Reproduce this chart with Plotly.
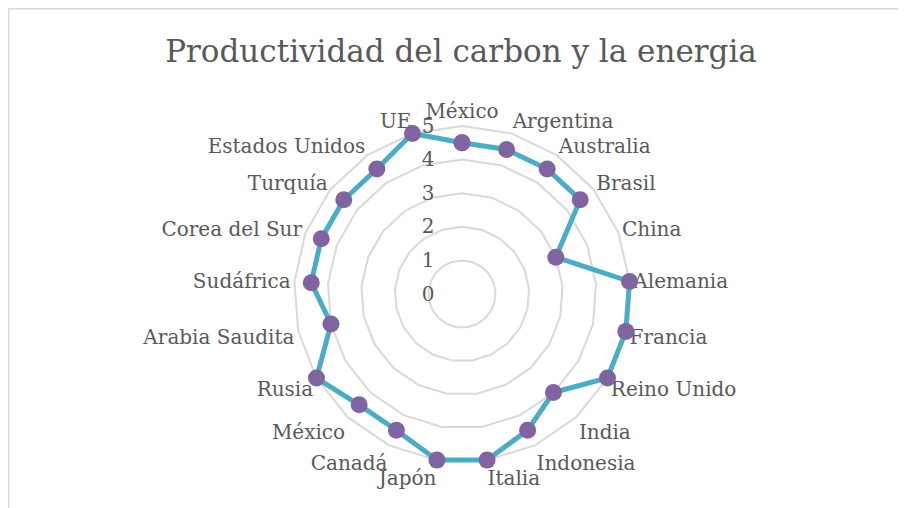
import plotly.graph_objects as go

# Data
categories = ["México", "Argentina", "Australia", "Brasil", "China", "Alemania",
              "Francia", "Reino Unido", "India", "Indonesia", "Italia", "Japón",
              "Canadá", "México", "Rusia", "Arabia Saudita", "Sudáfrica",
              "Corea del Sur", "Turquía", "Estados Unidos", "UE"]
values = [4.5, 4.5, 4.5, 4.5, 3, 5, 5, 5, 4, 4.5, 5, 5, 4.5, 4.5, 5, 4, 4.5, 4.5, 4.5, 4.5, 5]
radial_ticks = [0, 1, 2, 3, 4, 5]
title_text = "Productividad del carbon y la energia"

# make duplicate category names unique (zero-width space) so both are kept
seen = {}
theta = []
for c in categories:
    n = seen.get(c, 0)
    theta.append(c + "\u200b" * n)
    seen[c] = n + 1

FONT = "DejaVu Serif"
GRAY = "#595959"

fig = go.Figure()
fig.add_trace(go.Scatterpolar(
    r=values + values[:1],
    theta=theta + theta[:1],
    mode="lines+markers",
    line=dict(color="#4BACC6", width=5),
    marker=dict(color="#8064A2", size=17),
    showlegend=False,
    cliponaxis=False,
))

# page body has an 8px margin; figure coords = page coords - 8
OFF = 8
W, H = 906 - OFF, 508 - OFF
RMAX = 5.1  # a little headroom so the line at r=5 is not clipped
cx, cy = 462 - OFF, 294 - OFF
R = 168 * RMAX / 5
fig.update_layout(
    width=W, height=H,
    margin=dict(l=0, r=0, t=0, b=0),
    paper_bgcolor="white",
    plot_bgcolor="white",
    title=dict(text=title_text, x=(461 - OFF) / W, xanchor="center", y=1 - (51 - OFF) / H,
               yanchor="middle", font=dict(family=FONT, size=31, color=GRAY)),
    polar=dict(
        domain=dict(x=[(cx - R) / W, (cx + R) / W], y=[(H - cy - R) / H, (H - cy + R) / H]),
        gridshape="linear",
        bgcolor="white",
        angularaxis=dict(
            direction="clockwise", rotation=90, layer="below traces",
            showgrid=False, showline=False,
            ticks="", tickfont=dict(family=FONT, size=20, color=GRAY),
        ),
        radialaxis=dict(
            range=[0, RMAX], tickvals=radial_ticks, angle=90, tickangle=90,
            side="counterclockwise", layer="below traces",
            showline=False, showgrid=True, gridcolor="#d9d9d9", gridwidth=1.5,
            ticks="outside", ticklen=20, tickcolor="rgba(0,0,0,0)",
            tickfont=dict(family=FONT, size=20, color=GRAY),
        ),
    ),
    shapes=[
        dict(type="line", xref="paper", yref="paper", x0=0.5 / W, x1=1, y0=1 - 0.5 / H, y1=1 - 0.5 / H,
             line=dict(color="#d9d9d9", width=2)),
        dict(type="line", xref="paper", yref="paper", x0=0.5 / W, x1=0.5 / W, y0=0, y1=1,
             line=dict(color="#d9d9d9", width=2)),
    ],
)

fig.write_html("out.html")
